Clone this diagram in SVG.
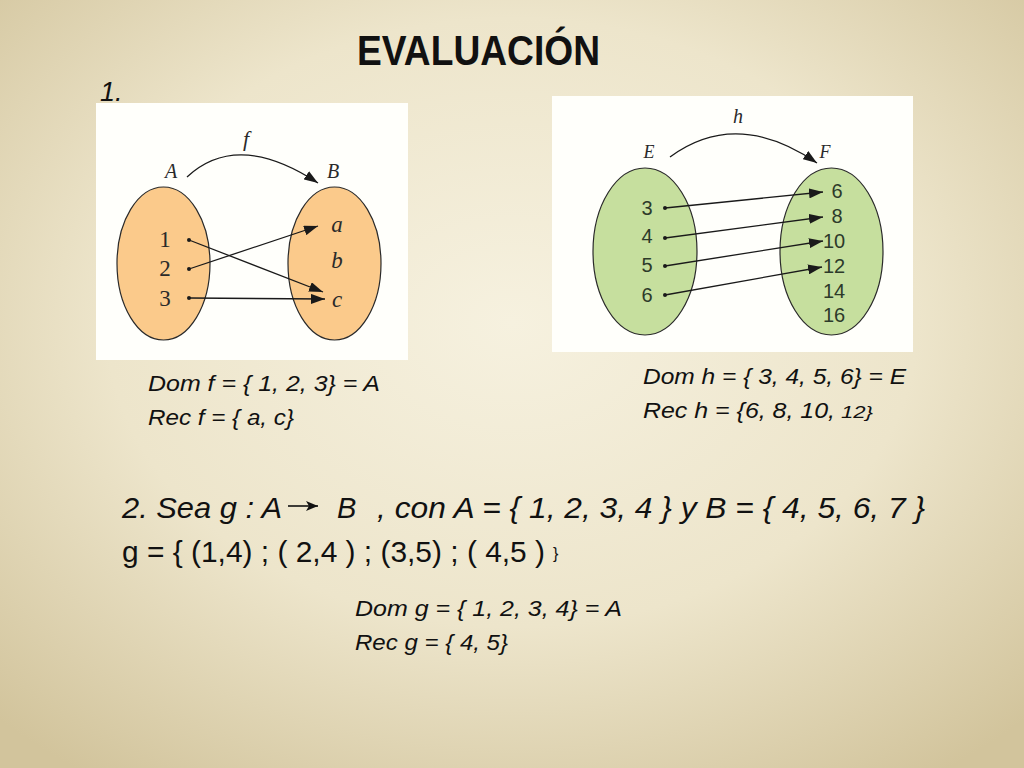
<svg xmlns="http://www.w3.org/2000/svg" width="1024" height="768" viewBox="0 0 1024 768">
<defs>
<radialGradient id="bg" cx="50%" cy="42%" r="72%">
<stop offset="0" stop-color="#f6f1df"/>
<stop offset="0.55" stop-color="#ede5cb"/>
<stop offset="1" stop-color="#d2c49c"/>
</radialGradient>
<marker id="ah" viewBox="0 0 14 10" refX="14" refY="5" markerWidth="14" markerHeight="10" markerUnits="userSpaceOnUse" orient="auto">
<path d="M0,0 L14,5 L0,10 z" fill="#1a1a1a"/>
</marker>
<marker id="ah2" viewBox="0 0 12 10" refX="12" refY="5" markerWidth="12" markerHeight="10" markerUnits="userSpaceOnUse" orient="auto">
<path d="M0,0 L12,5 L0,10 L3,5 z" fill="#111"/>
</marker>
</defs>
<style>
.panel{fill:#fffffb}
.orange{fill:#fbca8b;stroke:#2a2a2a;stroke-width:1.2}
.green{fill:#c6df9e;stroke:#2a2a2a;stroke-width:1.2}
.conn{fill:none;stroke:#1a1a1a;stroke-width:1.3;marker-end:url(#ah)}
.dot{fill:#1a1a1a}
.serif{font-family:"Liberation Serif","DejaVu Serif",serif;fill:#2a2a2a}
.it{font-style:italic}
.snum{font-family:"Liberation Sans","DejaVu Sans",sans-serif;font-size:20px;fill:#2d3a2a}
.body{font-family:"Liberation Sans","Open Sans",sans-serif;fill:#111}
</style>
<rect x="0" y="0" width="1024" height="768" fill="url(#bg)"/>

<text class="body" x="357" y="65" font-size="42" font-weight="bold" textLength="243" lengthAdjust="spacingAndGlyphs">EVALUACIÓN</text>
<text class="body it" x="100" y="101" font-size="27">1.</text>

<!-- Left diagram f -->
<rect class="panel" x="96" y="103" width="312" height="257"/>
<g id="setA">
<ellipse class="orange" cx="163.5" cy="263.5" rx="46.5" ry="76.5"/>
<text class="serif it" x="171" y="178" font-size="20" text-anchor="middle">A</text>
<text class="serif" x="165" y="247" font-size="23" text-anchor="middle">1</text>
<text class="serif" x="165" y="276" font-size="23" text-anchor="middle">2</text>
<text class="serif" x="165" y="306" font-size="23" text-anchor="middle">3</text>
<circle class="dot" cx="189" cy="240" r="2"/>
<circle class="dot" cx="189" cy="269" r="2"/>
<circle class="dot" cx="189" cy="298" r="2"/>
</g>
<g id="setB">
<ellipse class="orange" cx="334.5" cy="263.5" rx="46.5" ry="76.5"/>
<text class="serif it" x="333" y="178" font-size="20" text-anchor="middle">B</text>
<text class="serif it" x="337" y="232" font-size="23" text-anchor="middle">a</text>
<text class="serif it" x="337" y="268" font-size="23" text-anchor="middle">b</text>
<text class="serif it" x="337" y="307" font-size="23" text-anchor="middle">c</text>
</g>
<text class="serif it" x="246" y="146" font-size="22" text-anchor="middle">f</text>

<!-- Right diagram h -->
<rect class="panel" x="552" y="96" width="361" height="256"/>
<g id="setE">
<ellipse class="green" cx="645" cy="251.5" rx="52" ry="83.5"/>
<text class="serif it" x="649" y="158" font-size="18" text-anchor="middle">E</text>
<text class="snum" x="647" y="215" text-anchor="middle">3</text>
<text class="snum" x="647" y="243" text-anchor="middle">4</text>
<text class="snum" x="647" y="272" text-anchor="middle">5</text>
<text class="snum" x="647" y="302" text-anchor="middle">6</text>
<circle class="dot" cx="665" cy="208" r="2"/>
<circle class="dot" cx="665" cy="238" r="2"/>
<circle class="dot" cx="665" cy="266" r="2"/>
<circle class="dot" cx="665" cy="295" r="2"/>
</g>
<g id="setF">
<ellipse class="green" cx="831.5" cy="251.5" rx="51.5" ry="83.5"/>
<text class="serif it" x="825" y="158" font-size="18" text-anchor="middle">F</text>
<text class="snum" x="837" y="198" text-anchor="middle">6</text>
<text class="snum" x="837" y="223" text-anchor="middle">8</text>
<text class="snum" x="834" y="248" text-anchor="middle">10</text>
<text class="snum" x="834" y="273" text-anchor="middle">12</text>
<text class="snum" x="834" y="298" text-anchor="middle">14</text>
<text class="snum" x="834" y="322" text-anchor="middle">16</text>
</g>
<text class="serif it" x="738" y="123" font-size="20" text-anchor="middle">h</text>

<g id="connectors">
<path class="conn" d="M187,177 Q237.5,130 318,183"/>
<path class="conn" d="M189,240 L323,292"/>
<path class="conn" d="M189,269 L318,226"/>
<path class="conn" d="M189,298 L325,299"/>
<path class="conn" d="M670,157 Q736.5,108 817,163"/>
<path class="conn" d="M665,208 L823,192"/>
<path class="conn" d="M665,238 L823,217"/>
<path class="conn" d="M665,266 L823,241"/>
<path class="conn" d="M665,295 L822,267"/>
</g>

<!-- Dom / Rec texts -->
<text class="body it" x="148" y="391" font-size="22" textLength="232" lengthAdjust="spacingAndGlyphs">Dom f = { 1, 2, 3} = A</text>
<text class="body it" x="148" y="425" font-size="22" textLength="146" lengthAdjust="spacingAndGlyphs">Rec f = { a, c}</text>
<text class="body it" x="643" y="384" font-size="22" textLength="263" lengthAdjust="spacingAndGlyphs">Dom h = { 3, 4, 5, 6} = E</text>
<text class="body it" x="643" y="418" font-size="22" textLength="192" lengthAdjust="spacingAndGlyphs">Rec h = {6, 8, 10,</text>
<text class="body it" x="841" y="418" font-size="17" textLength="32" lengthAdjust="spacingAndGlyphs">12}</text>

<!-- Part 2 -->
<text class="body it" x="122" y="518" font-size="29" textLength="160" lengthAdjust="spacingAndGlyphs">2.  Sea g : A</text>
<path d="M288,506 L318,506" fill="none" stroke="#111" stroke-width="1.6" marker-end="url(#ah2)"/>
<text class="body it" x="337" y="518" font-size="29">B</text>
<text class="body it" x="377" y="518" font-size="29" textLength="548" lengthAdjust="spacingAndGlyphs">, con  A = { 1, 2, 3, 4 }  y  B = { 4, 5, 6, 7 }</text>
<text class="body" x="122" y="562" font-size="30" textLength="423" lengthAdjust="spacingAndGlyphs">g = { (1,4) ; ( 2,4 ) ; (3,5) ; ( 4,5 )</text>
<text class="body" x="553" y="559" font-size="16">}</text>

<text class="body it" x="355" y="616" font-size="22" textLength="267" lengthAdjust="spacingAndGlyphs">Dom g = { 1, 2, 3, 4} = A</text>
<text class="body it" x="355" y="650" font-size="22" textLength="153" lengthAdjust="spacingAndGlyphs">Rec g = { 4, 5}</text>
</svg>
